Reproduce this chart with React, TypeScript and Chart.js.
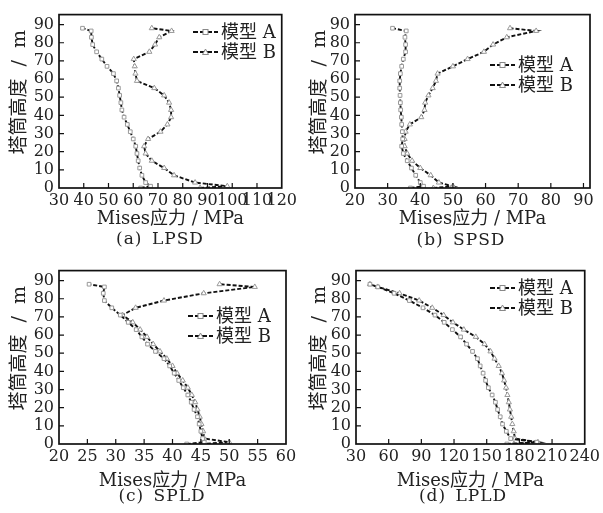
import React, { useEffect, useRef } from "react";
import { Chart, registerables } from "chart.js";

Chart.register(...registerables);

// Tower heights (m) at which stresses are sampled
const heights = [0, 1, 3, 7, 11, 15, 19, 23, 27, 31, 35, 39, 43, 47, 51, 55, 59, 63, 67, 71, 75, 79, 83, 86.5, 88];

// (a) LPSD
const lpsdA = [63, 67, 65, 63.5, 62.6, 62, 61.5, 61, 60, 58.8, 57.6, 56.3, 55.4, 55, 54.5, 54, 53.3, 52, 49.4, 47.3, 45.2, 43.6, 43.1, 43, 39.5];
const lpsdB = [87, 98, 85, 76.5, 72.5, 67.5, 65, 64.4, 66, 71, 73.8, 75.3, 75.3, 74.5, 72.5, 68.5, 61.5, 60.9, 60.6, 60.2, 66.5, 68.8, 70.5, 75.5, 67.5];
// (b) SPSD
const spsdA = [37, 41, 40, 38.6, 37.3, 36, 34.8, 34.3, 34.6, 34.5, 34.3, 34.2, 34, 33.9, 33.8, 33.7, 33.7, 33.9, 34.3, 34.8, 35.5, 35.5, 35.3, 35.7, 31.5];
const spsdB = [44, 50, 45.7, 43.2, 40, 37.5, 36, 35.2, 35.2, 35.5, 36.8, 40.3, 41.3, 41.5, 42.5, 43.8, 44.8, 45.3, 50, 54.5, 59.5, 62.3, 66.5, 75.5, 67.5];
// (c) SPLD
const spldA = [42.5, 45.6, 45.3, 45, 44.7, 44.4, 43.8, 43.3, 42.7, 41.9, 41.1, 40.3, 39.5, 38.5, 37, 35.6, 34.6, 33.6, 32.2, 30.8, 29.3, 28, 27.8, 28, 25.3];
const spldB = [45, 50, 45.6, 45.4, 45.1, 44.8, 44.4, 44, 43.4, 42.7, 41.8, 40.8, 40, 39, 37.8, 36.6, 35.5, 34.3, 33, 31.2, 33.5, 38.5, 45.5, 54.5, 48.3];
// (d) LPLD
const lpldA = [168.5, 196, 172, 168, 164.5, 162.4, 160, 158, 155, 151.5, 149, 146.7, 144, 141.5, 137, 131.5, 126, 118.5, 111, 102.5, 91.5, 79, 65, 50, 42.8];
const lpldB = [175, 197, 176, 174.8, 173.5, 172.5, 171.3, 170.3, 169, 167.8, 166, 164, 161, 157.2, 153.5, 148, 140, 129, 119, 110.5, 100, 88, 70, 50, 42.8];

// Tick values
const yTicks = [0, 10, 20, 30, 40, 50, 60, 70, 80, 90];
const xTicksLPSD = [30, 40, 50, 60, 70, 80, 90, 100, 110, 120];
const xTicksSPSD = [20, 30, 40, 50, 60, 70, 80, 90];
const xTicksSPLD = [20, 25, 30, 35, 40, 45, 50, 55, 60];
const xTicksLPLD = [30, 60, 90, 120, 150, 180, 210, 240];

const seriesNames = ["模型 A", "模型 B"];
const xTitle = "Mises应力 / MPa";
const yTitle = "   塔筒高度  /  m";
const captions = ["(a) LPSD", "(b) SPSD", "(c) SPLD", "(d) LPLD"];

const FONT = '"DejaVu Serif", "Noto Sans CJK SC", serif';

const framePlugin = {
  id: "frameTicks",
  afterDatasetsDraw(chart: any) {
    const { ctx, chartArea: a, scales } = chart;
    const x = scales.x;
    const y = scales.y;
    ctx.save();
    ctx.strokeStyle = "#111";
    ctx.lineWidth = 1.7;
    ctx.setLineDash([]);
    ctx.strokeRect(a.left, a.top, a.right - a.left, a.bottom - a.top);
    ctx.lineWidth = 1.2;
    ctx.beginPath();
    x.ticks.forEach((t: any) => {
      const px = x.getPixelForValue(t.value);
      if (px <= a.left + 1 || px >= a.right - 1) return;
      ctx.moveTo(px, a.bottom);
      ctx.lineTo(px, a.bottom - 5);
    });
    y.ticks.forEach((t: any) => {
      const py = y.getPixelForValue(t.value);
      if (py >= a.bottom - 1) return;
      ctx.moveTo(a.left, py);
      ctx.lineTo(a.left + 5, py);
    });
    ctx.stroke();
    ctx.restore();
  },
};

const legendPlugin = {
  id: "panelLegend",
  afterDraw(chart: any, _args: any, opts: any) {
    const { ctx } = chart;
    ctx.save();
    chart.data.datasets.forEach((ds: any, i: number) => {
      const yy = opts.y + i * 20;
      const x0 = opts.x;
      ctx.strokeStyle = "#111";
      ctx.lineWidth = 1.9;
      ctx.setLineDash([5, 2]);
      ctx.beginPath();
      ctx.moveTo(x0, yy);
      ctx.lineTo(x0 + 25, yy);
      ctx.stroke();
      ctx.setLineDash([]);
      ctx.fillStyle = "#fff";
      ctx.strokeStyle = "#888";
      ctx.lineWidth = 1;
      const cx = x0 + 12.5;
      if (ds.pointStyle === "triangle") {
        ctx.beginPath();
        ctx.moveTo(cx, yy - 3);
        ctx.lineTo(cx + 3, yy + 2.5);
        ctx.lineTo(cx - 3, yy + 2.5);
        ctx.closePath();
        ctx.fill();
        ctx.stroke();
      } else {
        ctx.fillRect(cx - 2.5, yy - 2.5, 5, 5);
        ctx.strokeRect(cx - 2.5, yy - 2.5, 5, 5);
      }
      ctx.fillStyle = "#222";
      ctx.font = "18px " + FONT;
      ctx.textBaseline = "middle";
      ctx.textAlign = "left";
      ctx.fillText(ds.label, x0 + 28, yy + 1);
    });
    ctx.restore();
  },
};

type PanelCfg = {
  left: number;
  top: number;
  w: number;
  h: number;
  area: { left: number; right: number; top: number; bottom: number };
  xMin: number;
  xMax: number;
  xTicks: number[];
  a: number[];
  b: number[];
  legend: { x: number; y: number };
  xTitlePad: number;
  caption: string;
  capX: number;
  capY: number;
};

const panels: PanelCfg[] = [
  {
    left: 0, top: 0, w: 300, h: 256,
    area: { left: 59, right: 286, top: 5, bottom: 188 },
    xMin: 30, xMax: 120, xTicks: xTicksLPSD, a: lpsdA, b: lpsdB,
    legend: { x: 193, y: 32 }, xTitlePad: 26, caption: captions[0], capX: 160, capY: 238,
  },
  {
    left: 300, top: 0, w: 303, h: 256,
    area: { left: 55, right: 290, top: 5, bottom: 188 },
    xMin: 20, xMax: 92, xTicks: xTicksSPSD, a: spsdA, b: spsdB,
    legend: { x: 190, y: 65 }, xTitlePad: 26, caption: captions[1], capX: 161, capY: 239,
  },
  {
    left: 0, top: 256, w: 300, h: 257,
    area: { left: 59, right: 286, top: 6, bottom: 188 },
    xMin: 20, xMax: 60, xTicks: xTicksSPLD, a: spldA, b: spldB,
    legend: { x: 188, y: 60 }, xTitlePad: 21, caption: captions[2], capX: 162, capY: 239,
  },
  {
    left: 300, top: 256, w: 303, h: 257,
    area: { left: 56, right: 287, top: 6, bottom: 188 },
    xMin: 30, xMax: 240, xTicks: xTicksLPLD, a: lpldA, b: lpldB,
    legend: { x: 190, y: 32 }, xTitlePad: 21, caption: captions[3], capX: 163, capY: 239,
  },
];

function Panel({ cfg }: { cfg: PanelCfg }) {
  const ref = useRef<HTMLCanvasElement>(null);
  useEffect(() => {
    const toPts = (arr: number[]) => arr.map((v, i) => ({ x: v, y: heights[i] }));
    const common = {
      showLine: true,
      borderColor: "#111",
      borderWidth: 1.9,
      borderDash: [4, 2],
      pointBackgroundColor: "#fff",
      pointBorderColor: "#999",
      pointBorderWidth: 1,
      fill: false,
      tension: 0,
    };
    const tickFont = { family: FONT, size: 16 };
    const chart = new Chart(ref.current as HTMLCanvasElement, {
      type: "scatter",
      data: {
        datasets: [
          { ...common, label: seriesNames[0], data: toPts(cfg.a), pointStyle: "rect", pointRadius: 2.6 },
          { ...common, label: seriesNames[1], data: toPts(cfg.b), pointStyle: "triangle", pointRadius: 3 },
        ],
      } as any,
      options: {
        responsive: false,
        animation: false,
        layout: { padding: { left: 0, top: cfg.area.top, right: cfg.w - cfg.area.right, bottom: 0 } },
        plugins: {
          legend: { display: false },
          tooltip: { enabled: false },
          panelLegend: cfg.legend,
        } as any,
        scales: {
          x: {
            type: "linear",
            min: cfg.xMin,
            max: cfg.xMax,
            grid: { display: false, drawTicks: false },
            border: { display: false },
            ticks: { font: tickFont, color: "#222", padding: 3, autoSkip: false, maxRotation: 0, includeBounds: false },
            afterBuildTicks: (s: any) => {
              s.ticks = cfg.xTicks.map((v) => ({ value: v }));
            },
            afterFit: (s: any) => {
              s.height = cfg.h - cfg.area.bottom;
            },
            title: {
              display: true,
              text: xTitle,
              font: { family: FONT, size: 18 },
              color: "#222",
              padding: { top: 0, bottom: cfg.xTitlePad },
            },
          },
          y: {
            type: "linear",
            min: 0,
            max: 95.5,
            grid: { display: false, drawTicks: false },
            border: { display: false },
            ticks: { font: tickFont, color: "#222", padding: 5, autoSkip: false, includeBounds: false },
            afterBuildTicks: (s: any) => {
              s.ticks = yTicks.map((v) => ({ value: v }));
            },
            afterFit: (s: any) => {
              s.width = cfg.area.left;
            },
            title: {
              display: true,
              text: yTitle,
              font: { family: FONT, size: 19 },
              color: "#222",
              padding: { top: 9, bottom: 0 },
            },
          },
        },
      } as any,
      plugins: [framePlugin, legendPlugin],
    });
    return () => chart.destroy();
  }, []);
  return (
    <>
      <canvas
        ref={ref}
        width={cfg.w}
        height={cfg.h}
        style={{ position: "absolute", left: cfg.left, top: cfg.top, width: cfg.w, height: cfg.h }}
      />
      <div
        style={{
          position: "absolute",
          left: cfg.left + cfg.capX - 100,
          top: cfg.top + cfg.capY - 11,
          width: 200,
          height: 22,
          lineHeight: "22px",
          textAlign: "center",
          fontFamily: FONT,
          fontSize: 17,
          letterSpacing: "1px",
          wordSpacing: "3px",
          color: "#222",
          whiteSpace: "nowrap",
        }}
      >
        {cfg.caption}
      </div>
    </>
  );
}

export default function App() {
  return (
    <div style={{ position: "absolute", left: 0, top: 0, width: 603, height: 513, background: "#fff", overflow: "hidden" }}>
      {panels.map((p, i) => (
        <Panel key={i} cfg={p} />
      ))}
    </div>
  );
}
